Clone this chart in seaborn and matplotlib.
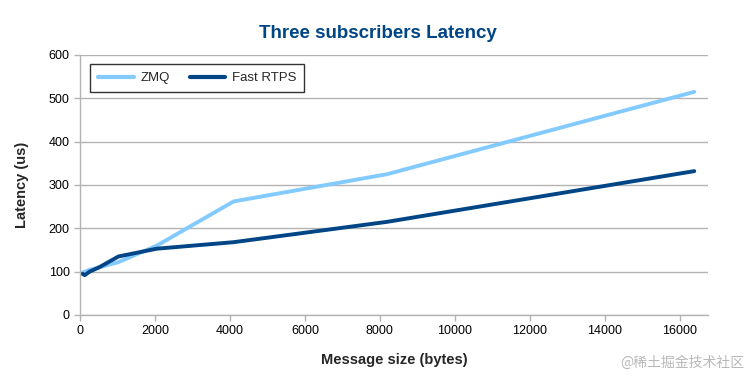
import matplotlib
matplotlib.use("Agg")
import matplotlib.pyplot as plt
import seaborn as sns
import pandas as pd
from matplotlib.lines import Line2D

sizes = [64, 128, 256, 512, 1024, 2048, 4096, 8192, 16384]
zmq = [98, 100, 104, 110, 122, 160, 262, 325, 515]
fast_rtps = [95, 92, 100, 110, 135, 153, 168, 215, 332]
series_names = ["ZMQ", "Fast RTPS"]
colors = ["#83CAFF", "#004586"]

df = pd.DataFrame({
    "size": sizes * 2,
    "latency": zmq + fast_rtps,
    "series": [series_names[0]] * len(sizes) + [series_names[1]] * len(sizes),
})

sns.set_theme(style="white")
plt.rcParams["font.family"] = ["Liberation Sans", "DejaVu Sans"]

fig = plt.figure(figsize=(7.56, 3.78), dpi=100)
ax = fig.add_axes([0.1058, 0.1667, 0.8307, 0.6878])

sns.lineplot(data=df, x="size", y="latency", hue="series", palette=colors,
             hue_order=series_names, linewidth=2.8, ax=ax, legend=False)

ax.set_xlim(0, 16750)
ax.set_ylim(0, 600)
ax.set_xticks(range(0, 16001, 2000))
ax.set_yticks(range(0, 601, 100))
ax.yaxis.grid(True, color="#b3b3b3", linewidth=1)
ax.xaxis.grid(False)
for s in ["top", "right"]:
    ax.spines[s].set_visible(False)
for s in ["left", "bottom"]:
    ax.spines[s].set_color("#b3b3b3")
    ax.spines[s].set_linewidth(1)
ax.tick_params(axis="both", labelsize=9, colors="#b3b3b3", labelcolor="black",
               length=4, width=1, direction="out", left=True, bottom=True)

ax.set_xlabel("Message size (bytes)", fontsize=10.5, fontweight="bold", labelpad=11)
ax.set_ylabel("Latency (us)", fontsize=10.5, fontweight="bold", labelpad=14)
fig.text(0.5, 0.912, "Three subscribers Latency", ha="center", va="center",
         fontsize=13.5, fontweight="bold", color="#004586")

handles = [Line2D([0], [0], color=c, lw=3) for c in colors]
leg = ax.legend(handles, series_names, ncol=2, loc="upper left",
                bbox_to_anchor=(0.006, 0.99), frameon=True, fancybox=False,
                fontsize=9.5, handlelength=2.7, columnspacing=1.5,
                borderpad=0.6, handletextpad=0.5)
leg.get_frame().set_edgecolor("black")
leg.get_frame().set_linewidth(1)

fig.text(0.985, 0.04, "@稀土掘金技术社区", ha="right", va="center", fontsize=10,
         color="#b8b8b8", family=["Noto Sans CJK SC", "DejaVu Sans"])

fig.savefig("out.png", dpi=100)
